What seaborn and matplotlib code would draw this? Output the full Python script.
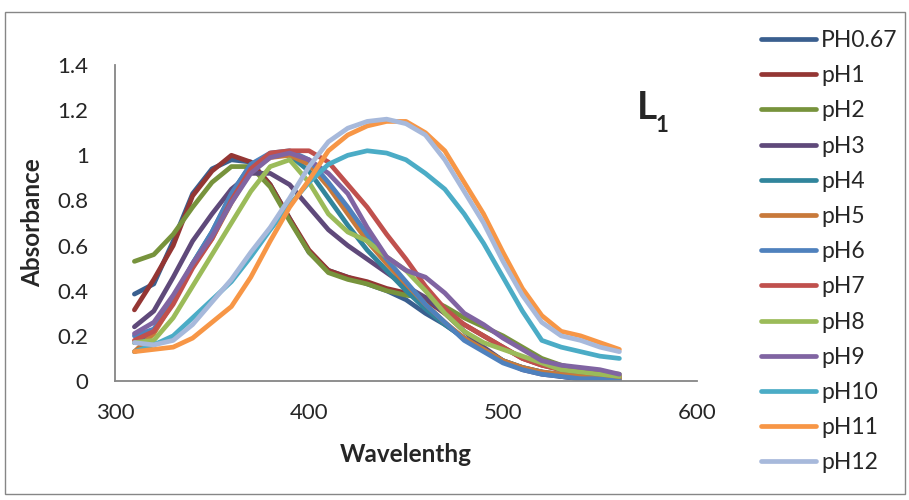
import numpy as np
import pandas as pd
import matplotlib.pyplot as plt
import seaborn as sns
from matplotlib.patches import Rectangle

# wavelength grid (nm) and absorbance
wavelength = [310, 320, 330, 340, 350, 360, 370, 380, 390, 400, 410, 420, 430,
              440, 450, 460, 470, 480, 490, 500, 510, 520, 530, 540, 550, 560]

ph067 = [0.385, 0.43, 0.62, 0.83, 0.94, 0.98, 0.97, 0.87, 0.72, 0.57, 0.49, 0.46, 0.43,
         0.40, 0.36, 0.30, 0.25, 0.19, 0.14, 0.09, 0.06, 0.04, 0.02, 0.01, 0.005, 0.0]
ph1 = [0.315, 0.45, 0.60, 0.82, 0.93, 1.0, 0.97, 0.87, 0.72, 0.58, 0.49, 0.46, 0.44,
       0.41, 0.39, 0.36, 0.30, 0.25, 0.20, 0.15, 0.10, 0.07, 0.05, 0.04, 0.03, 0.02]
ph2 = [0.53, 0.56, 0.65, 0.77, 0.88, 0.95, 0.95, 0.86, 0.71, 0.57, 0.48, 0.45, 0.43,
       0.40, 0.38, 0.37, 0.33, 0.28, 0.24, 0.20, 0.15, 0.10, 0.07, 0.05, 0.04, 0.03]
ph3 = [0.24, 0.31, 0.46, 0.62, 0.74, 0.85, 0.92, 0.92, 0.87, 0.77, 0.67, 0.60, 0.54,
       0.48, 0.42, 0.37, 0.30, 0.22, 0.15, 0.09, 0.05, 0.03, 0.02, 0.01, 0.005, 0.0]
ph4 = [0.17, 0.22, 0.36, 0.52, 0.66, 0.83, 0.96, 1.0, 1.0, 0.93, 0.81, 0.69, 0.58,
       0.49, 0.40, 0.32, 0.25, 0.19, 0.14, 0.09, 0.06, 0.04, 0.03, 0.02, 0.01, 0.01]
ph5 = [0.13, 0.21, 0.35, 0.51, 0.63, 0.79, 0.93, 0.99, 1.0, 0.96, 0.86, 0.74, 0.62,
       0.52, 0.43, 0.34, 0.26, 0.19, 0.14, 0.09, 0.06, 0.04, 0.03, 0.02, 0.01, 0.01]
ph6 = [0.20, 0.23, 0.36, 0.52, 0.66, 0.83, 0.96, 1.01, 1.02, 0.98, 0.88, 0.77, 0.65,
       0.54, 0.44, 0.34, 0.26, 0.18, 0.13, 0.08, 0.05, 0.03, 0.02, 0.01, 0.01, 0.0]
ph7 = [0.18, 0.22, 0.34, 0.50, 0.63, 0.80, 0.94, 1.01, 1.02, 1.02, 0.97, 0.87, 0.77,
       0.65, 0.54, 0.42, 0.32, 0.25, 0.20, 0.15, 0.10, 0.07, 0.05, 0.04, 0.03, 0.02]
ph8 = [0.17, 0.18, 0.28, 0.42, 0.56, 0.70, 0.84, 0.95, 0.98, 0.88, 0.74, 0.66, 0.62,
       0.55, 0.49, 0.40, 0.30, 0.22, 0.17, 0.14, 0.11, 0.08, 0.05, 0.04, 0.03, 0.02]
ph9 = [0.21, 0.26, 0.38, 0.52, 0.64, 0.79, 0.92, 0.99, 1.01, 0.98, 0.92, 0.83, 0.68,
       0.55, 0.49, 0.46, 0.39, 0.30, 0.25, 0.19, 0.14, 0.09, 0.07, 0.06, 0.05, 0.03]
ph10 = [0.13, 0.16, 0.20, 0.28, 0.36, 0.44, 0.55, 0.67, 0.78, 0.88, 0.96, 1.0, 1.02,
        1.01, 0.98, 0.92, 0.85, 0.74, 0.61, 0.46, 0.31, 0.18, 0.15, 0.13, 0.11, 0.10]
ph11 = [0.13, 0.14, 0.15, 0.19, 0.26, 0.33, 0.46, 0.62, 0.77, 0.89, 1.02, 1.09, 1.13,
        1.15, 1.15, 1.10, 1.02, 0.88, 0.74, 0.57, 0.41, 0.29, 0.22, 0.20, 0.17, 0.14]
ph12 = [0.17, 0.16, 0.18, 0.25, 0.35, 0.45, 0.57, 0.68, 0.81, 0.95, 1.06, 1.12, 1.15,
        1.16, 1.14, 1.09, 0.98, 0.84, 0.70, 0.53, 0.38, 0.26, 0.20, 0.18, 0.15, 0.13]

series_names = ['PH0.67', 'pH1', 'pH2', 'pH3', 'pH4', 'pH5', 'pH6',
                'pH7', 'pH8', 'pH9', 'pH10', 'pH11', 'pH12']
series_values = [ph067, ph1, ph2, ph3, ph4, ph5, ph6, ph7, ph8, ph9, ph10, ph11, ph12]
colors = ['#3A5F8F', '#943634', '#77933C', '#5F497A', '#31859C', '#C8793A', '#4F81BD',
          '#C0504D', '#9BBB59', '#8064A2', '#4BACC6', '#F79646', '#A7B9DB']

x_ticks = [300, 400, 500, 600]
y_ticks = [0, 0.2, 0.4, 0.6, 0.8, 1.0, 1.2, 1.4]
y_tick_labels = ['0', '0.2', '0.4', '0.6', '0.8', '1', '1.2', '1.4']

frames = []
for name, vals in zip(series_names, series_values):
    frames.append(pd.DataFrame({'Wavelength': wavelength, 'Absorbance': vals, 'Series': name}))
df = pd.concat(frames, ignore_index=True)

sns.set_style('white')
plt.rcParams['font.family'] = ['Lato', 'DejaVu Sans']

fig = plt.figure(figsize=(9.09, 5.0), dpi=100)
ax = fig.add_axes([115 / 909, 1 - 381 / 500, 582 / 909, 316 / 500])

sns.lineplot(data=df, x='Wavelength', y='Absorbance', hue='Series', hue_order=series_names,
             palette=dict(zip(series_names, colors)), linewidth=3.4, sort=False,
             ax=ax, legend=True)
for ln in ax.get_lines():
    ln.set_solid_capstyle('round')
    ln.set_solid_joinstyle('round')

ax.set_xlim(300, 600)
ax.set_ylim(0, 1.4)
ax.set_xticks(x_ticks)
ax.set_xticklabels([str(t) for t in x_ticks])
ax.set_yticks(y_ticks)
ax.set_yticklabels(y_tick_labels)
ax.tick_params(axis='both', length=0, labelsize=16)
ax.tick_params(axis='x', pad=16)
ax.tick_params(axis='y', pad=19)

for side in ['top', 'right']:
    ax.spines[side].set_visible(False)
for side in ['left', 'bottom']:
    ax.spines[side].set_color('#868686')
    ax.spines[side].set_linewidth(1.3)

ax.set_xlabel('Wavelenthg', fontsize=17.5, fontweight='bold')
ax.set_ylabel('Absorbance', fontsize=17.5, fontweight='bold')
ax.xaxis.set_label_coords(0.5, -0.234)
ax.yaxis.set_label_coords(-0.141, 0.5)
ax.xaxis.label.set_va('center')
ax.yaxis.label.set_va('center')

leg = ax.legend(loc='upper left', bbox_to_anchor=(761 / 909, 1 - 30 / 500),
                bbox_transform=fig.transFigure, frameon=False, fontsize=16.5,
                handlelength=2.4, handletextpad=0.22, labelspacing=0.62,
                borderpad=0, borderaxespad=0, title=None)
for ln in leg.get_lines():
    ln.set_linewidth(3.4)
    ln.set_solid_capstyle('round')

# compound label
fig.text(637 / 909, 1 - 119 / 500, 'L', fontsize=28, fontweight='bold', va='baseline')
fig.text(656 / 909, 1 - 132 / 500, '1', fontsize=16, fontweight='bold', va='baseline')

# chart-area border
fig.patches.append(Rectangle((5 / 909, 1 - 494 / 500), 900 / 909, 482 / 500,
                             transform=fig.transFigure, fill=False,
                             edgecolor='#868686', linewidth=1.0))

fig.savefig('out.png', dpi=100)
